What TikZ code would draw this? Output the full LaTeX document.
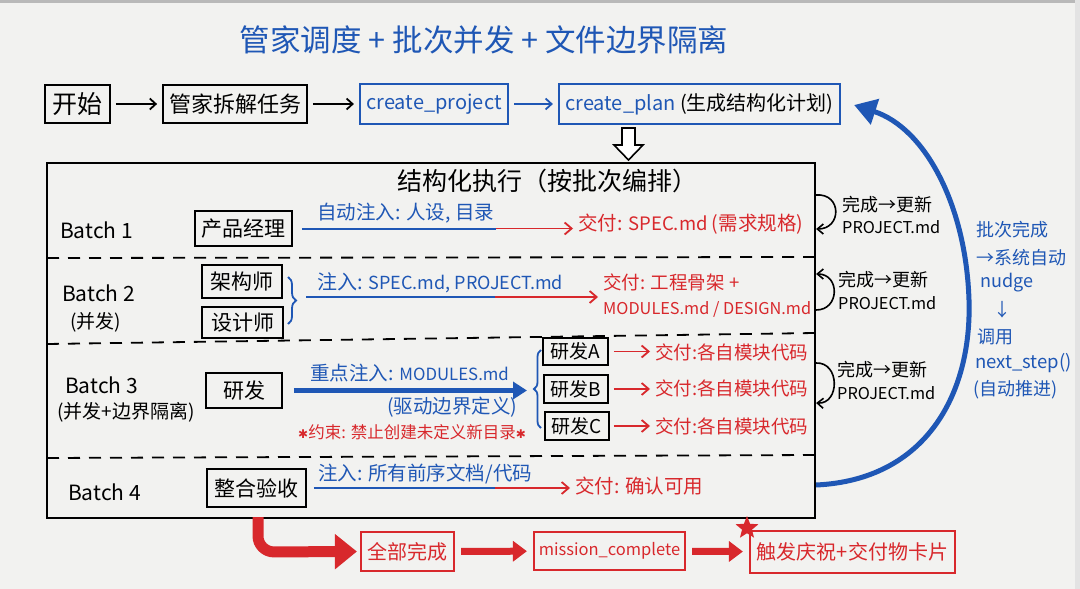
\documentclass[tikz,border=0pt]{standalone}
\usepackage{fontspec}
\setmainfont{Noto Sans CJK SC}
\newfontfamily\symf{DejaVu Sans}
\usetikzlibrary{arrows.meta,decorations.pathreplacing,shapes.geometric,calc}
\definecolor{bblue}{HTML}{1F57B5}
\definecolor{rred}{HTML}{D8282C}
\definecolor{board}{HTML}{F2F2F0}
\newcommand\fsz[1]{\fontsize{#1}{#1}\selectfont}
\newcommand\myast{{\symf\fontsize{12}{12}\selectfont ✱}}
\begin{document}
\begin{tikzpicture}[x=1pt,y=-1pt,font=\fsz{19},
  bx/.style={draw=black,line width=1.8pt,inner sep=0pt},
  bluebx/.style={draw=bblue,line width=2.2pt,inner sep=0pt},
  redbx/.style={draw=rred,line width=2.2pt,inner sep=0pt,text=rred},
  lbl/.style={inner sep=0pt,anchor=west},
  blab/.style={lbl,text=bblue},
  rlab/.style={lbl,text=rred},
  arr/.style={line width=1.8pt,-{Straight Barb[length=6pt,width=11pt]},shorten <=5pt,shorten >=5pt},
  barr/.style={arr,draw=bblue},
  rarr/.style={line width=1.8pt,draw=rred,-{Straight Barb[length=7pt,width=12pt]},shorten >=5pt},
  bline/.style={line width=2pt,draw=bblue},
  dashsep/.style={line width=1.8pt,dash pattern=on 12pt off 9pt},
  loopar/.style={line width=1.6pt,-{Straight Barb[length=6pt,width=10pt]}},
  bracebl/.style={draw=bblue,line width=1.8pt,decorate},
  fatred/.style={draw=rred,line width=7pt,-{Triangle[length=14pt,width=20pt]},shorten <=6pt,shorten >=6pt}
]
\useasboundingbox (0,0) rectangle (1080,589);
\fill[board] (0,0) rectangle (1080,589);
\fill[gray!55] (0,0) rectangle (1080,3);
\fill[gray!22] (1075,0) rectangle (1080,589);

% title
\node[text=bblue,font=\fsz{30.5}] (title) at (484,40) {管家调度 + 批次并发 + 文件边界隔离};

% top row
\node[bx,minimum width=65pt,minimum height=38pt,font=\fsz{25}] (start) at (77.5,104) {开始};
\node[bx,minimum width=144pt,minimum height=38pt,font=\fsz{22}] (split) at (235,104) {管家拆解任务};
\node[bluebx,text=bblue,minimum width=148pt,minimum height=40pt,font=\fsz{20}] (cproj) at (434,104) {create\_project};
\node[bluebx,minimum width=281pt,minimum height=40pt,font=\fsz{20}] (cplan) at (699.5,104) {\textcolor{bblue}{create\_plan} (生成结构化计划)};
\draw[arr] (start) -- (split);
\draw[arr] (split) -- (cproj);
\draw[barr] (cproj) -- (cplan);

% hollow down arrow
\draw[line width=1.6pt,fill=white] (622,128) -- (635,128) -- (635,145) -- (643,145) -- (628.5,160) -- (614,145) -- (622,145) -- cycle;

% main box
\node[draw,line width=2.2pt,minimum width=768pt,minimum height=355pt,inner sep=0pt] (exec) at (431,340.5) {};
\node[font=\fsz{25}] (sect) at (547,181) {结构化执行（按批次编排）};
\draw[dashsep] (47,258) -- (815,257);
\draw[dashsep] (47,344) -- (815,333);
\draw[dashsep] (47,458) -- (815,455);

% batch 1
\node[lbl,font=\fsz{21}] (b1) at (60,230) {Batch 1};
\node[bx,minimum width=97pt,minimum height=35pt,font=\fsz{21}] (pm) at (243.5,228.5) {产品经理};
\node[blab,font=\fsz{19.5}] (i1) at (317,213) {自动注入: 人设, 目录};
\node[rlab,font=\fsz{19.5}] (d1) at (578,224) {交付: {\fsz{18.5}SPEC.md} (需求规格)};
\coordinate (j1) at (496,228.5);
\draw[bline] ($(pm.east)+(9,0)$) -- (j1);
\draw[rarr] (j1) -- (d1.west |- j1);

% batch 2
\node[lbl,font=\fsz{21}] (b2) at (62,293) {Batch 2};
\node[lbl,font=\fsz{19}] (b2s) at (70,322) {(并发)};
\node[bx,minimum width=80pt,minimum height=33pt,font=\fsz{21}] (arch) at (242,281.5) {架构师};
\node[bx,minimum width=81pt,minimum height=31pt,font=\fsz{21}] (des) at (242.5,322.5) {设计师};
\draw[bracebl,decoration={brace,amplitude=8pt}] (288,277) -- (288,324);
\node[blab,font=\fsz{20}] (i2) at (317,283) {注入: {\fsz{18}SPEC.md, PROJECT.md}};
\node[rlab,font=\fontsize{18.5}{25}\selectfont,align=left] (d2) at (603,295.5) {交付: 工程骨架 +\\{\fsz{16.3}MODULES.md / DESIGN.md}};
\coordinate (s2) at (306,297);
\coordinate (j2) at (495,297);
\draw[bline] (s2) -- (j2);
\draw[rarr] (j2) -- (d2.west |- j2);

% batch 3
\node[lbl,font=\fsz{21}] (b3) at (65,385) {Batch 3};
\node[lbl,font=\fsz{19}] (b3s) at (57,412) {(并发+边界隔离)};
\node[bx,minimum width=76pt,minimum height=35pt,font=\fsz{21}] (dev) at (244,390.5) {研发};
\coordinate (br3) at (527,390.5);
\draw[line width=5pt,bblue,-{Triangle[length=14pt,width=17pt]}] ($(dev.east)+(11,0)$) -- (br3);
\node[blab,font=\fsz{19.5}] (i3) at (310,373) {重点注入: {\fsz{16.8}MODULES.md}};
\node[blab,font=\fsz{19.5}] (i3b) at (387,407) {(驱动边界定义)};
\node[rlab,font=\fsz{16.5}] (c3) at (298,432) {\myast 约束: 禁止创建未定义新目录\myast};
\draw[bracebl,decoration={brace,amplitude=7pt}] (541,428) -- (541,350);
\node[bx,minimum width=65pt,minimum height=27pt,font=\fsz{19}] (rA) at (575.5,351.5) {研发A};
\node[bx,minimum width=64pt,minimum height=28pt,font=\fsz{19}] (rB) at (576,389) {研发B};
\node[bx,minimum width=64pt,minimum height=28pt,font=\fsz{19}] (rC) at (577,426) {研发C};
\node[rlab,font=\fsz{18.5}] (dA) at (655,352) {交付:各自模块代码};
\node[rlab,font=\fsz{18.5}] (dB) at (655,388) {交付:各自模块代码};
\node[rlab,font=\fsz{18.5}] (dC) at (655,426) {交付:各自模块代码};
\draw[rarr] ($(rA.east)+(5,0)$) -- (dA.west |- rA.east);
\draw[rarr] ($(rB.east)+(5,0)$) -- (dB.west |- rB.east);
\draw[rarr] ($(rC.east)+(4,0)$) -- (dC.west |- rC.east);

% batch 4
\node[lbl,font=\fsz{21}] (b4) at (68,492) {Batch 4};
\node[bx,minimum width=99pt,minimum height=38pt,font=\fsz{21}] (integ) at (256.5,488) {整合验收};
\node[blab,font=\fsz{19.5}] (i4) at (318,474) {注入: 所有前序文档/代码};
\node[rlab,font=\fsz{19.5}] (d4) at (575,486) {交付: 确认可用};
\coordinate (j4) at (495,488);
\draw[bline] ($(integ.east)+(7,0)$) -- (j4);
\draw[rarr] (j4) -- (d4.west |- j4);

% update loops
\draw[loopar] (exec.east |- 0,195) .. controls (842,193) and (842,229) .. (exec.east |- 0,229);
\draw[loopar] (exec.east |- 0,310) .. controls (840,310) and (840,274) .. (exec.east |- 0,274);
\draw[loopar] (exec.east |- 0,363) .. controls (840,362) and (840,404) .. (exec.east |- 0,403);
\node[lbl,font=\fsz{18}] (u1a) at (842,205) {完成→更新};
\node[lbl,font=\fsz{16.3}] (u1b) at (842,227) {PROJECT.md};
\node[lbl,font=\fsz{18}] (u2a) at (838,280) {完成→更新};
\node[lbl,font=\fsz{16.3}] (u2b) at (838,303) {PROJECT.md};
\node[lbl,font=\fsz{18}] (u3a) at (837,370) {完成→更新};
\node[lbl,font=\fsz{16.3}] (u3b) at (837,393) {PROJECT.md};

% big feedback arrow
\draw[line width=5pt,bblue,-{Triangle[length=22pt,width=26pt]}] (exec.east |- 0,485) .. controls (925,480) and (972,395) .. (969,300) .. controls (966,205) and (925,128) .. ($(cplan.east)+(13,1)$);
\node[blab,font=\fsz{18}] (n1) at (976,230) {批次完成};
\node[blab,font=\fsz{18}] (n2) at (976,258) {→系统自动};
\node[blab,font=\fsz{18}] (n3) at (980,283) {nudge};
\node[text=bblue,inner sep=0pt,font=\fsz{18}] (n4) at (1002,310) {↓};
\node[blab,font=\fsz{18}] (n5) at (977,337) {调用};
\node[blab,font=\fsz{18.5}] (n6) at (975,363) {next\_step()};
\node[blab,font=\fsz{18}] (n7) at (973,390) {(自动推进)};

% bottom row
\node[redbx,minimum width=93pt,minimum height=39pt,font=\fsz{20}] (done) at (407.5,551.5) {全部完成};
\node[redbx,minimum width=151pt,minimum height=38pt,font=\fsz{16.5}] (mc) at (609.5,551) {mission\_complete};
\node[redbx,minimum width=205pt,minimum height=42pt,font=\fsz{20}] (celeb) at (852.5,552) {触发庆祝+交付物卡片};
\node[star,star points=5,star point ratio=2.3,fill=rred,minimum size=24pt,inner sep=0pt] (star) at (747,528) {};
\draw[draw=rred,line width=11pt,rounded corners=16pt,-{Triangle[length=22pt,width=34pt]}] (258,517) -- (258,552) -- ($(done.west)+(-3,0)$);
\draw[fatred] (done) -- (mc);
\draw[fatred] (mc) -- (celeb);
\end{tikzpicture}
\end{document}
